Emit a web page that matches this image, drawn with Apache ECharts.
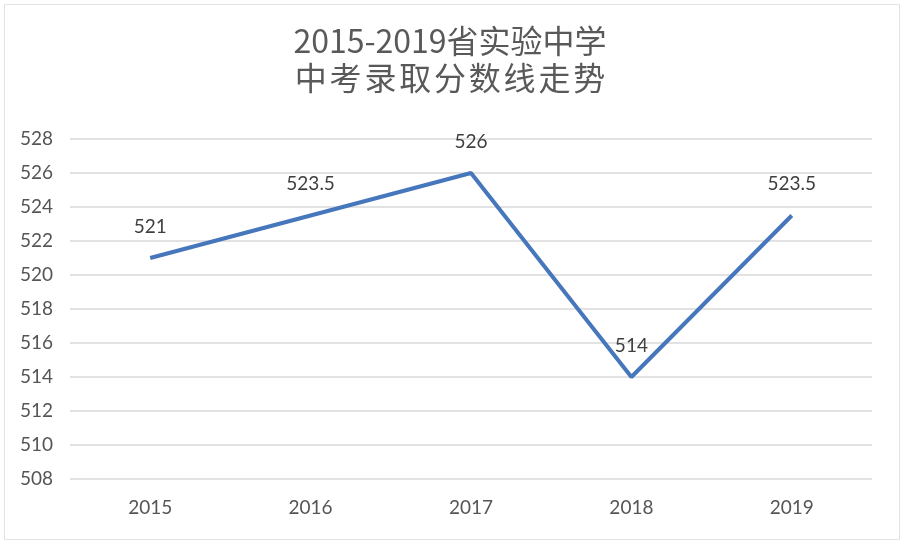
<!DOCTYPE html>
<html>
<head>
<meta charset="utf-8">
<script src="https://cdn.jsdelivr.net/npm/echarts@6/dist/echarts.min.js"></script>
<style>html,body{margin:0;padding:0;background:#fff}#c{width:900px;height:541px}</style>
</head>
<body>
<div id="c"></div>
<script>
const titleLine1 = '2015-2019省实验中学';
const titleLine2 = '中考录取分数线走势';
const categories = ['2015', '2016', '2017', '2018', '2019'];
const scores = [521, 523.5, 526, 514, 523.5];
const yMin = 508, yMax = 528, yStep = 2;

const chart = echarts.init(document.getElementById('c'), null, {renderer: 'canvas'});
const titleFont = {fontFamily: '"Noto Sans CJK SC", Lato, sans-serif', fontSize: 32, fontWeight: 'normal', color: '#595959'};
const line2Rich = titleLine2.split('').map(ch => '{a|' + ch + '}').join('');
chart.setOption({
  backgroundColor: '#fff',
  animation: false,
  graphic: [{
    type: 'rect', left: 2, top: 2, silent: true,
    shape: {width: 895, height: 535},
    style: {fill: 'none', stroke: '#e3e3e3', lineWidth: 1}
  }],
  title: [{
    text: titleLine1, left: 'center', top: 20, textStyle: titleFont
  }, {
    text: line2Rich, left: 'center', top: 57,
    textStyle: Object.assign({}, titleFont, {
      rich: {a: Object.assign({}, titleFont, {width: 34.8, align: 'center'})}
    })
  }],
  grid: {left: 70, right: 28, top: 139, bottom: 62, containLabel: false},
  xAxis: {
    type: 'category', data: categories, boundaryGap: true,
    axisLine: {show: false}, axisTick: {show: false},
    axisLabel: {color: '#555', fontSize: 19, fontFamily: 'Lato, "Noto Sans", sans-serif', margin: 19}
  },
  yAxis: {
    type: 'value', min: yMin, max: yMax, interval: yStep,
    axisLine: {show: false}, axisTick: {show: false},
    axisLabel: {color: '#555', fontSize: 19, fontFamily: 'Lato, "Noto Sans", sans-serif', margin: 17},
    splitLine: {lineStyle: {color: '#d9d9d9', width: 1.5}}
  },
  series: [{
    type: 'line', data: scores, symbol: 'circle', symbolSize: 0, showSymbol: true,
    lineStyle: {color: '#4676BC', width: 4},
    itemStyle: {color: '#4676BC'},
    label: {show: true, position: 'top', distance: 22, color: '#404040', fontSize: 19, fontFamily: 'Lato, "Noto Sans", sans-serif'}
  }]
});
</script>
</body>
</html>
